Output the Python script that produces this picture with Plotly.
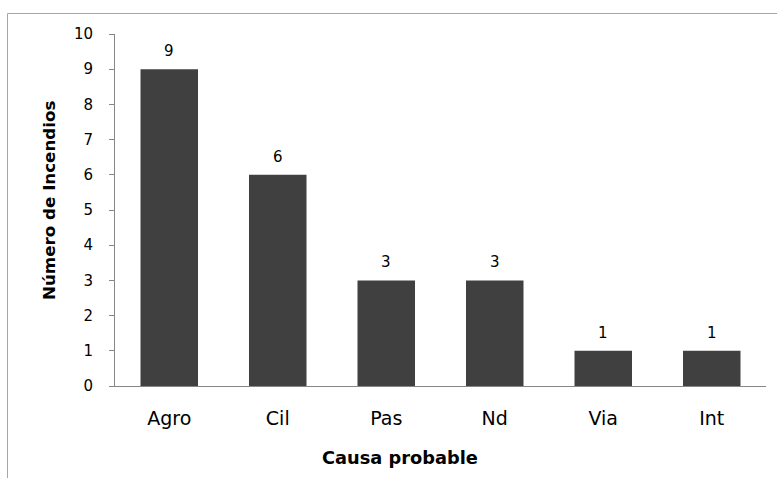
import plotly.graph_objects as go

categories = ["Agro", "Cil", "Pas", "Nd", "Via", "Int"]
values = [9, 6, 3, 3, 1, 1]
y_ticks = list(range(0, 11))

W, H = 777, 478
L, R, T, B = 115, 11, 34, 92
pw, ph = W - L - R, H - T - B
FONT = "DejaVu Sans"

def px_x(p):
    return (p - L) / pw

def px_y(p):
    return (H - B - p) / ph

fig = go.Figure(go.Bar(
    x=categories, y=values,
    marker=dict(color="#404040", line=dict(color="#404040", width=0)),
    hoverinfo="skip",
))

for c, v in zip(categories, values):
    fig.add_annotation(x=c, y=v, text=str(v), showarrow=False, yanchor="middle",
                       xanchor="center", yshift=18, font=dict(family=FONT, size=15, color="#000"))

fig.add_annotation(xref="paper", yref="paper", x=px_x(400), y=px_y(457), text="<b>Causa probable</b>",
                   xanchor="center", yanchor="middle", showarrow=False,
                   font=dict(family=FONT, size=17.8, color="#000"))
fig.add_annotation(xref="paper", yref="paper", x=px_x(49), y=px_y(201), text="<b>Número de Incendios</b>",
                   xanchor="center", yanchor="middle", textangle=-90, showarrow=False,
                   font=dict(family=FONT, size=16.7, color="#000"))

fig.add_shape(type="rect", xref="paper", yref="paper",
              x0=px_x(7.5), x1=px_x(790), y0=px_y(13.5), y1=px_y(490),
              line=dict(color="#a6a6a6", width=1), fillcolor="rgba(0,0,0,0)")

fig.update_layout(
    width=W, height=H,
    margin=dict(l=L, r=R, t=T, b=B),
    paper_bgcolor="white", plot_bgcolor="white",
    bargap=0.47, showlegend=False,
    xaxis=dict(showline=True, linecolor="#868686", linewidth=1, ticks="", showgrid=False,
               tickfont=dict(family=FONT, size=19, color="#000"), ticklabelstandoff=15),
    yaxis=dict(range=[0, 10], tickvals=y_ticks, showline=True, linecolor="#868686", linewidth=1,
               ticks="outside", ticklen=5, tickcolor="#868686", showgrid=False, zeroline=False,
               tickfont=dict(family=FONT, size=15, color="#000"), ticklabelstandoff=13),
)

fig.write_html("out.html")
